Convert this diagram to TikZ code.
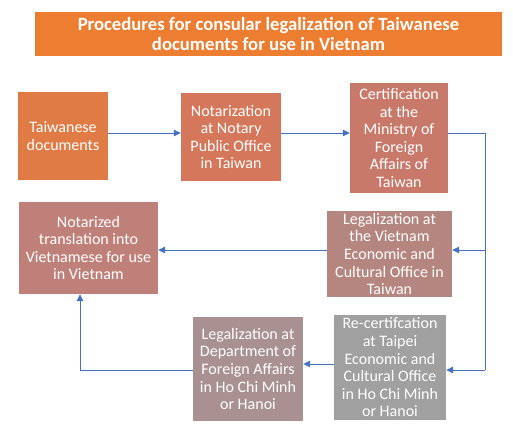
\documentclass[tikz,border=0pt]{standalone}
\usepackage{fontspec}
\setmainfont{Carlito}
\usetikzlibrary{arrows.meta}
\definecolor{lineblue}{HTML}{4472C4}
\definecolor{titleor}{HTML}{ED7D31}
\definecolor{c1}{HTML}{E07B45}
\definecolor{c2}{HTML}{D5775A}
\definecolor{c3}{HTML}{C9796A}
\definecolor{c4}{HTML}{B5857F}
\definecolor{c5}{HTML}{C0807A}
\definecolor{c6}{HTML}{A0A0A0}
\definecolor{c7}{HTML}{A99191}
\tikzset{
  stepbox/.style={rectangle, inner sep=0pt, align=center, text=white,
    font=\fontsize{16}{17.6}\selectfont},
  conn/.style={draw=lineblue, line width=0.8pt},
  arr/.style={conn, -{Triangle[length=7pt,width=6.5pt]}},
}
\begin{document}
\begin{tikzpicture}[x=1pt,y=-1pt]
\useasboundingbox (0,0) rectangle (513,431);
\node[stepbox, fill=titleor, minimum width=467pt, minimum height=44pt,
  font=\fontsize{18.7}{20.5}\selectfont\bfseries] (title) at (268.5,34)
  {Procedures for consular legalization of Taiwanese\\documents for use in Vietnam};
\node[stepbox, fill=c1, minimum width=90pt, minimum height=88pt] (b1) at (63,136)
  {Taiwanese\\documents};
\node[stepbox, fill=c2, minimum width=100pt, minimum height=88pt] (b2) at (231,137)
  {Notarization\\at Notary\\Public Office\\in Taiwan};
\node[stepbox, fill=c3, minimum width=98pt, minimum height=110pt] (b3) at (399,138)
  {Certification\\at the\\Ministry of\\Foreign\\Affairs of\\Taiwan};
\node[stepbox, fill=c4, minimum width=125pt, minimum height=86pt] (b4) at (389.5,254)
  {Legalization at\\the Vietnam\\Economic and\\Cultural Office in\\Taiwan};
\node[stepbox, fill=c5, minimum width=139pt, minimum height=92pt] (b5) at (88.5,248)
  {Notarized\\translation into\\Vietnamese for use\\in Vietnam};
\node[stepbox, fill=c6, minimum width=112pt, minimum height=105pt] (b6) at (390,367.5)
  {Re-certifcation\\at Taipei\\Economic and\\Cultural Office\\in Ho Chi Minh\\or Hanoi};
\node[stepbox, fill=c7, minimum width=110pt, minimum height=104pt] (b7) at (248,369)
  {Legalization at\\Department of\\Foreign Affairs\\in Ho Chi Minh\\or Hanoi};
\coordinate (R1) at (485,133);
\coordinate (R2) at (485,370);
\coordinate (L) at (80,370);
\draw[arr] ([yshift=3pt]b1.east) -- ([yshift=3pt]b1.east -| b2.west);
\draw[arr] ([yshift=4pt]b2.east) -- ([yshift=4pt]b2.east -| b3.west);
\draw[conn] ([yshift=5pt]b3.east) -- (R1) -- (R2);
\draw[arr] ([yshift=4pt]b4.east -| R1) -- ([yshift=4pt]b4.east);
\draw[arr] ([yshift=4pt]b4.west) -- ([yshift=4pt]b4.west -| b5.east);
\draw[arr] (R2) -- (R2 -| b6.east);
\draw[arr] ([yshift=3.5pt]b6.west) -- ([yshift=3.5pt]b6.west -| b7.east);
\draw[arr] (L -| b7.west) -- (L) -- (L |- b5.south);
\end{tikzpicture}
\end{document}
